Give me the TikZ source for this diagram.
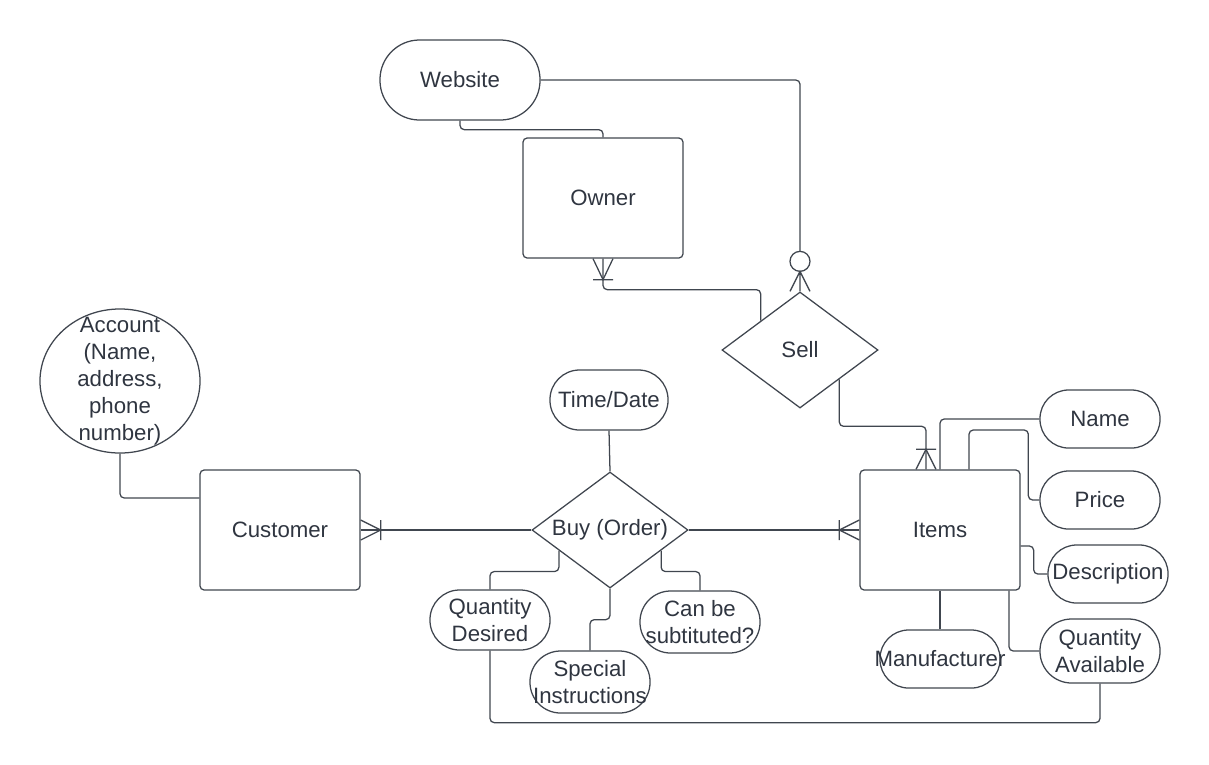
\documentclass[tikz,border=0pt]{standalone}
\usepackage{fontspec}
\setmainfont{Liberation Sans}
\usetikzlibrary{shapes.geometric,calc}
\begin{document}
\begin{tikzpicture}[
    x=.025cm,y=-.025cm,
    font=\fontsize{15.8}{19.2}\selectfont,
    line width=.9pt,
    entity/.style={draw=erline,text=ertext,rectangle,rounded corners=3pt,
      minimum width=4cm,minimum height=3cm,inner sep=0pt},
    attr/.style={draw=erline,text=ertext,rectangle,rounded corners=.74cm,
      minimum width=3cm,minimum height=1.5cm,inner sep=0pt,align=center},
    rel/.style={draw=erline,text=ertext,diamond,shape aspect=1.35,
      minimum width=3.9cm,minimum height=2.9cm,inner sep=0pt},
    link/.style={draw=erline,rounded corners=3pt}
  ]
    \definecolor{erline}{HTML}{40464F}
    \definecolor{ertext}{HTML}{2F3540}
    \path[use as bounding box] (0,0) rectangle (1209,764);
    % entities and relationships
    \node[attr,minimum width=4cm,minimum height=2cm,rounded corners=.99cm] (website) at (460,80) {Website};
    \node[entity] (owner) at (603,198) {Owner};
    \node[rel] (sell) at (800,350) {Sell};
    \node[entity] (customer) at (280,530) {Customer};
    \node[rel] (buy) at (610,530) {Buy (Order)};
    \node[entity] (items) at (940,530) {Items};
    \node[draw=erline,ellipse,minimum width=4cm,minimum height=3.6cm,inner sep=0pt] (account) at (120,381) {};
    \node[text=ertext,align=center] at (account) {Account\\(Name,\\address,\\phone\\number)};
    % attributes
    \node[attr,minimum width=2.95cm] (timedate) at (609,400) {Time/Date};
    \node[attr] (qdesired) at (490,620) {Quantity\\Desired};
    \node[attr,minimum height=1.55cm,rounded corners=.765cm] (special) at (590,682) {Special\\\makebox[0pt]{Instructions}};
    \node[attr,minimum height=1.55cm,rounded corners=.765cm] (subst) at (700,622) {Can be\\subtituted?};
    \node[attr,minimum height=1.45cm,rounded corners=.715cm] (name) at (1100,419) {Name};
    \node[attr,minimum height=1.45cm,rounded corners=.715cm] (price) at (1100,500) {Price};
    \node[attr,minimum height=1.45cm,rounded corners=.715cm] (descr) at (1108,574) {Description};
    \node[attr,minimum height=1.6cm,rounded corners=.79cm] (qavail) at (1100,651) {Quantity\\Available};
    \node[attr,minimum height=1.45cm,rounded corners=.715cm] (manuf) at (940,659) {\makebox[0pt]{Manufacturer}};
    % links
    \draw[link] (website.south) -- ++(0,9) -| (owner.north);
    \draw[link] (website.east) -| ($(sell.north)+(0,-40)$);
    \draw[link] (owner.south) -- ++(0,31) -| (sell.north west);
    \draw[link] (sell.south east) -- ++(0,47) -| ([xshift=-.35cm]items.north);
    \draw[link] (account.south) |- ([yshift=.8cm]customer.west);
    \draw[link] (customer.east) -- (buy.west);
    \draw[link] (buy.east) -- (items.west);
    \draw[link] (timedate.south) -- (buy.north);
    \draw[link] ($(buy.west)!.35!(buy.south)$) -- ++(0,21) -| (qdesired.north);
    \draw[link] (buy.south) -- ++(0,31) -| (special.north);
    \draw[link] ($(buy.east)!.35!(buy.south)$) -- ++(0,21) -| (subst.north);
    \draw[link] (qdesired.south) -- ++(0,72) -| (qavail.south);
    \draw[link] (name.west) -| (items.north);
    \draw[link] (price.west) -- ++(-11,0) -- ++(0,-70) -| ([xshift=.725cm]items.north);
    \draw[link] ([yshift=-.4cm]items.east) -- ++(13,0) |- (descr.west);
    \draw[link] ([xshift=1.725cm]items.south) |- (qavail.west);
    \draw[link] (items.south) -- (manuf.north);
    % crow's feet
    \draw[erline] ($(owner.south)+(-10,0)$) -- ($(owner.south)+(0,21)$) -- ($(owner.south)+(10,0)$)
      ($(owner.south)+(-10,21)$) -- ($(owner.south)+(10,21)$);
    \draw[erline] ($(sell.north)+(0,-30)$) circle[radius=.25cm];
    \draw[erline] ($(sell.north)+(-10,0)$) -- ($(sell.north)+(0,-20)$) -- ($(sell.north)+(10,0)$)
      ($(sell.north)+(0,-20)$) -- (sell.north);
    \draw[erline] ([xshift=-.6cm]items.north) -- ([xshift=-.35cm,yshift=.5cm]items.north) -- ([xshift=-.1cm]items.north)
      ([xshift=-.6cm,yshift=.5cm]items.north) -- ([xshift=-.1cm,yshift=.5cm]items.north);
    \draw[erline] ($(customer.east)+(0,-10)$) -- ($(customer.east)+(20,0)$) -- ($(customer.east)+(0,10)$)
      ($(customer.east)+(20,-10)$) -- ($(customer.east)+(20,10)$);
    \draw[erline] ($(items.west)+(0,-10)$) -- ($(items.west)+(-20,0)$) -- ($(items.west)+(0,10)$)
      ($(items.west)+(-20,-10)$) -- ($(items.west)+(-20,10)$);
  \end{tikzpicture}
\end{document}
